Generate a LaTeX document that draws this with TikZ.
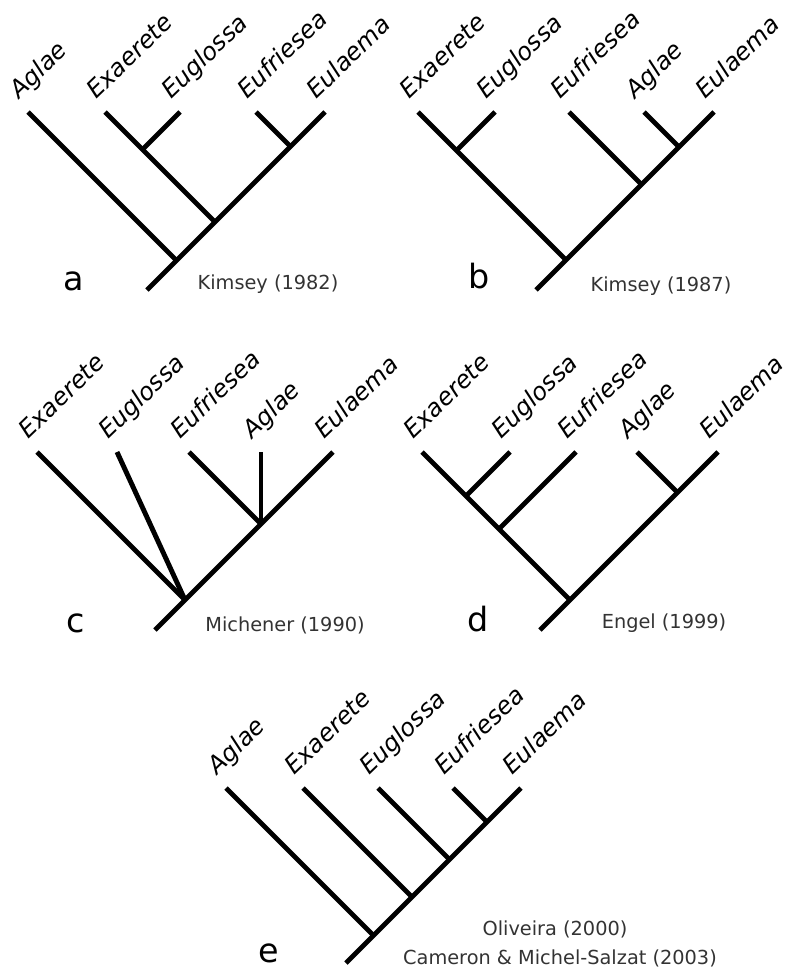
\documentclass[tikz,border=0pt]{standalone}
\usepackage{fontspec}
\setmainfont{DejaVu Sans}

\tikzset{
  branch/.style={draw,line width=2.8pt},
  taxon/.style={rotate=44,anchor=base west,inner sep=0pt,font=\fontsize{13.8}{16}\selectfont\itshape},
  panel/.style={anchor=base,inner sep=0pt,font=\fontsize{19}{22}\selectfont},
  source/.style={anchor=base,inner sep=0pt,text=black!80,font=\fontsize{11}{13}\selectfont}
}

\begin{document}
\begin{tikzpicture}[x=0.02cm,y=-0.02cm]
      \useasboundingbox (0,0) rectangle (791,970);

      % a: Kimsey (1982)
      \coordinate (a0) at (147,290);
      \coordinate (a1) at (176.5,260.5);
      \coordinate (a2) at (215,222);
      \coordinate (a3) at (142.5,149.5);
      \coordinate (a4) at (290.5,146.5);
      \coordinate (aAg) at (28,112);
      \coordinate (aEx) at (105,112);
      \coordinate (aEg) at (180,112);
      \coordinate (aEf) at (256,112);
      \coordinate (aEu) at (325,112);
      \begin{scope}[every edge/.style={branch}]
        \path (a0) edge (aEu);
        \path (a1) edge (aAg);
        \path (a2) edge (aEx);
        \path (a3) edge (aEg);
        \path (a4) edge (aEf);
      \end{scope}
      \node[taxon] (aAgL) at ([shift={(-9,-12)}]aAg) {Aglae};
      \node[taxon] (aExL) at ([shift={(-9,-12)}]aEx) {Exaerete};
      \node[taxon] (aEgL) at ([shift={(-9,-12)}]aEg) {Euglossa};
      \node[taxon] (aEfL) at ([shift={(-9,-12)}]aEf) {Eufriesea};
      \node[taxon] (aEuL) at ([shift={(-9,-12)}]aEu) {Eulaema};
      \node[panel] (aP) at (74,290) {a};
      \node[source] (aS) at (268,289) {Kimsey (1982)};

      % b: Kimsey (1987)
      \coordinate (b0) at (536,290);
      \coordinate (b1) at (566,260);
      \coordinate (b2) at (456.5,150.5);
      \coordinate (b3) at (641.5,184.5);
      \coordinate (b4) at (679,147);
      \coordinate (bEx) at (418,112);
      \coordinate (bEg) at (495,112);
      \coordinate (bEf) at (569,112);
      \coordinate (bAg) at (644,112);
      \coordinate (bEu) at (714,112);
      \begin{scope}[every edge/.style={branch}]
        \path (b0) edge (bEu);
        \path (b1) edge (bEx);
        \path (b2) edge (bEg);
        \path (b3) edge (bEf);
        \path (b4) edge (bAg);
      \end{scope}
      \node[taxon] (bExL) at ([shift={(-9,-12)}]bEx) {Exaerete};
      \node[taxon] (bEgL) at ([shift={(-9,-12)}]bEg) {Euglossa};
      \node[taxon] (bEfL) at ([shift={(-9,-12)}]bEf) {Eufriesea};
      \node[taxon] (bAgL) at ([shift={(-9,-12)}]bAg) {Aglae};
      \node[taxon] (bEuL) at ([shift={(-9,-12)}]bEu) {Eulaema};
      \node[panel] (bP) at (479,288) {b};
      \node[source] (bS) at (661,291) {Kimsey (1987)};

      % c: Michener (1990)
      \coordinate (c0) at (155,630);
      \coordinate (c1) at (185,600);
      \coordinate (c2) at (261,524);
      \coordinate (cEx) at (37,452);
      \coordinate (cEg) at (117,452);
      \coordinate (cEf) at (189,452);
      \coordinate (cAg) at (261,452);
      \coordinate (cEu) at (333,452);
      \begin{scope}[every edge/.style={branch}]
        \path (c0) edge (cEu);
        \path (c1) edge (cEx);
        \path (c1) edge (cEg);
        \path (c2) edge (cEf);
        \path (c2) edge (cAg);
      \end{scope}
      \node[taxon] (cExL) at ([shift={(-9,-12)}]cEx) {Exaerete};
      \node[taxon] (cEgL) at ([shift={(-9,-12)}]cEg) {Euglossa};
      \node[taxon] (cEfL) at ([shift={(-9,-12)}]cEf) {Eufriesea};
      \node[taxon] (cAgL) at ([shift={(-9,-12)}]cAg) {Aglae};
      \node[taxon] (cEuL) at ([shift={(-9,-12)}]cEu) {Eulaema};
      \node[panel] (cP) at (76,632) {c};
      \node[source] (cS) at (285,631) {Michener (1990)};

      % d: Engel (1999)
      \coordinate (d0) at (540,630);
      \coordinate (d1) at (570,600);
      \coordinate (d2) at (466,496);
      \coordinate (d3) at (499,529);
      \coordinate (d4) at (677.5,492.5);
      \coordinate (dEx) at (422,452);
      \coordinate (dEg) at (510,452);
      \coordinate (dEf) at (576,452);
      \coordinate (dAg) at (637,452);
      \coordinate (dEu) at (718,452);
      \begin{scope}[every edge/.style={branch}]
        \path (d0) edge (dEu);
        \path (d1) edge (dEx);
        \path (d2) edge (dEg);
        \path (d3) edge (dEf);
        \path (d4) edge (dAg);
      \end{scope}
      \node[taxon] (dExL) at ([shift={(-9,-12)}]dEx) {Exaerete};
      \node[taxon] (dEgL) at ([shift={(-9,-12)}]dEg) {Euglossa};
      \node[taxon] (dEfL) at ([shift={(-9,-12)}]dEf) {Eufriesea};
      \node[taxon] (dAgL) at ([shift={(-9,-12)}]dAg) {Aglae};
      \node[taxon] (dEuL) at ([shift={(-9,-12)}]dEu) {Eulaema};
      \node[panel] (dP) at (478,631) {d};
      \node[source] (dS) at (664,628) {Engel (1999)};

      % e: Oliveira (2000), Cameron & Michel-Salzat (2003)
      \coordinate (e0) at (346,963);
      \coordinate (e1) at (373.5,935.5);
      \coordinate (e2) at (412,897);
      \coordinate (e3) at (449.5,859.5);
      \coordinate (e4) at (487,822);
      \coordinate (eAg) at (226,788);
      \coordinate (eEx) at (303,788);
      \coordinate (eEg) at (378,788);
      \coordinate (eEf) at (453,788);
      \coordinate (eEu) at (521,788);
      \begin{scope}[every edge/.style={branch}]
        \path (e0) edge (eEu);
        \path (e1) edge (eAg);
        \path (e2) edge (eEx);
        \path (e3) edge (eEg);
        \path (e4) edge (eEf);
      \end{scope}
      \node[taxon] (eAgL) at ([shift={(-9,-12)}]eAg) {Aglae};
      \node[taxon] (eExL) at ([shift={(-9,-12)}]eEx) {Exaerete};
      \node[taxon] (eEgL) at ([shift={(-9,-12)}]eEg) {Euglossa};
      \node[taxon] (eEfL) at ([shift={(-9,-12)}]eEf) {Eufriesea};
      \node[taxon] (eEuL) at ([shift={(-9,-12)}]eEu) {Eulaema};
      \node[panel] (eP) at (269,962) {e};
      \node[source] (eS1) at (555,935) {Oliveira (2000)};
      \node[source] (eS2) at (560,964) {Cameron \& Michel-Salzat (2003)};
    \end{tikzpicture}
\end{document}
